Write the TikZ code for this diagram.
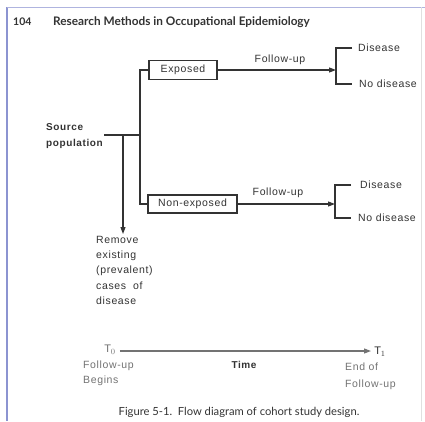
\documentclass[tikz,border=0pt]{standalone}
\usepackage{fontspec}
\setmainfont[LetterSpace=6]{Liberation Sans}
\newfontfamily\headfont{Lato}
\usetikzlibrary{arrows.meta}
\definecolor{ink}{rgb}{0.2,0.2,0.2}
\definecolor{framecol}{rgb}{0.55,0.58,0.82}
\begin{document}
\begin{tikzpicture}[x=1pt,y=-1pt,
  every node/.style={inner sep=0pt, text=ink, font=\fontsize{10.5}{12}\selectfont},
  box/.style={draw=ink, line width=1.1pt, minimum height=19pt},
  conn/.style={draw=ink, line width=1.1pt},
  arr/.style={conn, -{Triangle[length=7pt,width=5pt]}},
  timelbl/.style={text=black!55, align=left, font=\fontsize{10.5}{15}\selectfont}
]
\useasboundingbox (0,0) rectangle (425,421);
\fill[white] (0,0) rectangle (425,421);
% frame
\draw[framecol, line width=1.8pt] (7,7) -- (7,421);
\draw[framecol!70, line width=1pt] (7,7) -- (425,7);
\draw[black!12, line width=0.6pt] (421,7) -- (421,421);
% header
\node[anchor=west, font=\headfont\bfseries\fontsize{10.5}{12}\selectfont] (pg) at (13,22) {104};
\node[anchor=west, font=\headfont\fontsize{11.8}{13}\selectfont, text=ink] (title) at (53,22) {\textbf{Research Methods in Occupational Epidemiology}};
% boxes
\node[box, minimum width=68pt] (exp) at (183,70) {Exposed};
\node[box, minimum width=89pt, minimum height=18pt] (nonexp) at (192.5,204) {Non-exposed};
% source
\node[anchor=west, align=left, font=\bfseries\fontsize{10}{16}\selectfont] (src) at (46,136) {Source\\population};
\coordinate (jtop) at (140,70);
\coordinate (jmid) at (140,135);
\coordinate (jbot) at (140,204);
\coordinate (srce) at (104,135);
\coordinate (rm) at (123,135);
\draw[conn] (exp.west) -- (jtop) -- (jbot) -- (nonexp.west);
\draw[conn] (srce) -- (jmid);
\node[anchor=north west, align=left, font=\fontsize{10.5}{15.2}\selectfont] (remove) at (96,236) {Remove\\existing\\(prevalent)\\cases\ \ of\\disease};
\draw[arr] (rm) -- (123,234);
% follow-up arrows
\node (fu1) at (280,60) {Follow-up};
\node (fu2) at (278,193) {Follow-up};
\coordinate (b1) at (336,70);
\coordinate (b2) at (335,204);
\draw[arr] (exp.east) -- (b1);
\draw[arr] (nonexp.east) -- (b2);
\draw[conn] (352,48) -- (336,48) -- (336,84) -- (352,84);
\draw[conn] (351,185) -- (335,185) -- (335,218) -- (351,218);
\node[anchor=west] (d1) at (358,48) {Disease};
\node[anchor=west] (nd1) at (359,84) {No disease};
\node[anchor=west] (d2) at (360,185) {Disease};
\node[anchor=west] (nd2) at (358,218) {No disease};
% time axis
\node[text=black!55, font=\fontsize{11}{12}\selectfont] (t0) at (110,350) {T$_0$};
\node[font=\fontsize{11}{12}\selectfont] (t1) at (380,352) {T$_1$};
\draw[arr, draw=black!55] (t0.east) ++(4,1) coordinate (ts) -- (371,351) coordinate (te);
\node[timelbl, anchor=north west] (beg) at (83,361) {Follow-up\\Begins};
\node[font=\bfseries\fontsize{10}{12}\selectfont] (time) at (244,365) {Time};
\node[timelbl, anchor=north west, font=\fontsize{10.5}{17}\selectfont] (endf) at (345,363) {End of\\Follow-up};
% caption
\node[font=\headfont\fontsize{11.2}{13}\selectfont] (cap) at (239,412) {Figure 5-1.\ \ Flow diagram of cohort study design.};
\end{tikzpicture}
\end{document}
